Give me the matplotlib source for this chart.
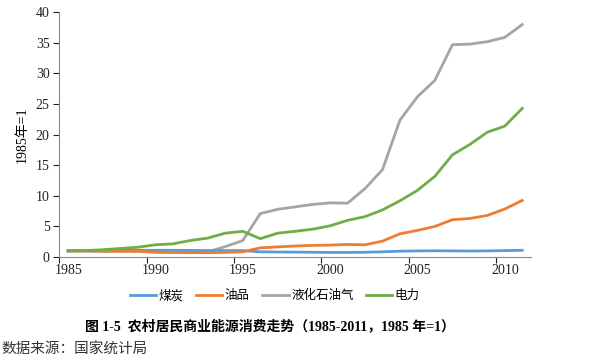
import numpy as np
import matplotlib
matplotlib.use("Agg")
import matplotlib.pyplot as plt

plt.rcParams['font.family'] = ['Liberation Serif', 'Noto Sans CJK SC']

years = list(range(1985, 2012))
coal = [1.0, 1.02, 1.05, 1.08, 1.1, 1.1, 1.1, 1.08, 1.05, 1.05, 1.05,
        0.85, 0.82, 0.8, 0.78, 0.75, 0.75, 0.78, 0.85, 0.95, 1.0,
        1.02, 1.0, 0.98, 1.0, 1.05, 1.1]
oil = [1.0, 1.0, 0.95, 0.95, 0.95, 0.8, 0.75, 0.72, 0.7, 0.75, 0.85,
       1.5, 1.65, 1.8, 1.9, 1.95, 2.05, 2.0, 2.6, 3.8, 4.35,
       5.0, 6.1, 6.3, 6.8, 7.85, 9.25]
lpg = [1.0, 1.0, 0.95, 0.95, 0.95, 0.8, 0.75, 0.72, 0.85, 1.7, 2.7,
       7.1, 7.8, 8.2, 8.6, 8.85, 8.8, 11.2, 14.3, 22.4, 26.2,
       28.9, 34.7, 34.8, 35.2, 35.9, 38.0]
power = [1.0, 1.05, 1.2, 1.4, 1.6, 2.0, 2.15, 2.7, 3.1, 3.9, 4.2,
         3.0, 3.9, 4.2, 4.55, 5.1, 6.0, 6.6, 7.7, 9.2, 10.9,
         13.2, 16.7, 18.4, 20.4, 21.4, 24.3]
names = ['煤炭', '油品', '液化石油气', '电力']
colors = ['#5B9BD5', '#ED7D31', '#A5A5A5', '#70AD47']
xlabels = ['1985', '1990', '1995', '2000', '2005', '2010']

fig = plt.figure(figsize=(6, 3.62), dpi=100)
ax = fig.add_axes([0.099, 0.290, 0.786, 0.676])

x = np.arange(len(years))
series = [coal, oil, lpg, power]
zorders = [3, 4, 2, 5]
handles = []
for vals, name, c, z in zip(series, names, colors, zorders):
    h, = ax.plot(x, vals, color=c, lw=2.0, label=name, zorder=z,
                 solid_joinstyle='round')
    handles.append(h)

ax.set_xlim(-0.5, len(years) - 0.5)
ax.set_ylim(0, 40)
ax.set_yticks(range(0, 41, 5))
ax.set_xticks(np.arange(0, len(years), 5) - 0.5)
ax.set_xticklabels([])
ax.set_xticks(np.arange(0, len(years), 5), minor=True)
ax.set_xticklabels(xlabels, minor=True)
ax.tick_params(axis='x', which='minor', length=0, pad=5)
ax.tick_params(axis='x', which='major', length=4, direction='out', color='#888888')
ax.tick_params(axis='y', length=4, direction='out', color='#888888', pad=3)
ax.tick_params(labelsize=10, colors='#222222', which='both')
for s in ['top', 'right']:
    ax.spines[s].set_visible(False)
for s in ['left', 'bottom']:
    ax.spines[s].set_color('#888888')
    ax.spines[s].set_linewidth(0.8)
ax.set_ylabel('1985年=1', fontsize=10, labelpad=5)

fig.legend(handles=handles, loc='center', bbox_to_anchor=(0.458, 0.182),
           ncol=4, frameon=False, fontsize=9, handlelength=2.1,
           handletextpad=0.2, columnspacing=1.0)

fig.text(0.45, 0.1, '图 1-5  农村居民商业能源消费走势（1985-2011，1985 年=1）',
         ha='center', va='center', fontsize=10, fontweight='bold')
fig.text(0.003, 0.035, '数据来源：国家统计局', ha='left', va='center',
         fontsize=10.5, color='#333333', family=['Noto Sans CJK SC'], fontweight='light')

fig.savefig('out.png', dpi=100)
